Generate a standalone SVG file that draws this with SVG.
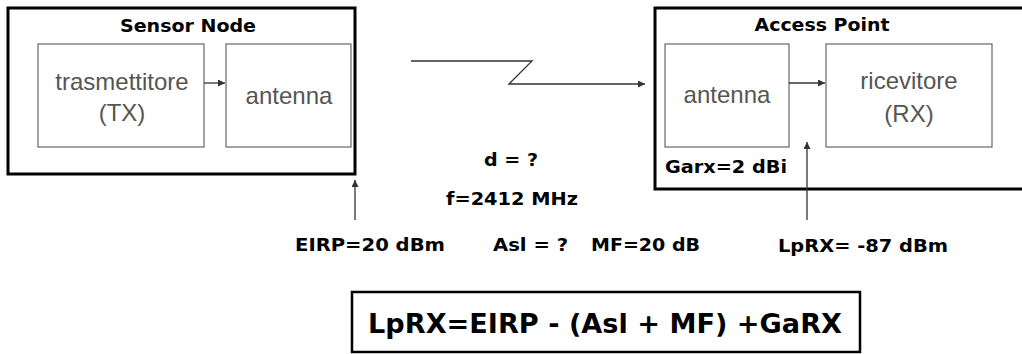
<svg xmlns="http://www.w3.org/2000/svg" width="1022" height="354" viewBox="0 0 1022 354">
<defs>
<style>
.outer{fill:none;stroke:#000;stroke-width:3}
.inner{fill:#fff;stroke:#666;stroke-width:1.2}
.lbl{font-family:"Liberation Sans",Arial,sans-serif;font-size:24px;fill:#555;text-anchor:middle}
.b{font-family:"DejaVu Sans",Verdana,sans-serif;font-weight:bold;font-size:18px;fill:#000}
.c{text-anchor:middle}
.ln{fill:none;stroke:#333;stroke-width:1.3}
</style>
<marker id="ah" viewBox="0 0 10 10" refX="10" refY="5" markerWidth="7" markerHeight="7" markerUnits="userSpaceOnUse" orient="auto">
<path d="M0,0 L10,5 L0,10 z" fill="#333"/>
</marker>
</defs>
<rect x="0" y="0" width="1022" height="354" fill="#fff"/>
<g id="sensor-node">
<rect class="outer" x="8" y="8" width="347" height="166"/>
<text class="b c" x="188" y="32" textLength="136" lengthAdjust="spacingAndGlyphs">Sensor Node</text>
</g>
<g id="tx">
<rect class="inner" x="38" y="44" width="166" height="103"/>
<text class="lbl" x="122" y="90">trasmettitore</text>
<text class="lbl" x="122" y="121">(TX)</text>
</g>
<g id="tx-antenna">
<rect class="inner" x="226" y="44" width="125" height="103"/>
<text class="lbl" x="289" y="104">antenna</text>
</g>
<g id="access-point">
<rect class="outer" x="655" y="8" width="380" height="181"/>
<text class="b c" x="822" y="31" textLength="135" lengthAdjust="spacingAndGlyphs">Access Point</text>
<text class="b" x="665" y="173" textLength="122" lengthAdjust="spacingAndGlyphs">Garx=2 dBi</text>
</g>
<g id="rx-antenna">
<rect class="inner" x="665" y="44" width="124" height="103"/>
<text class="lbl" x="727" y="103">antenna</text>
</g>
<g id="rx">
<rect class="inner" x="826" y="44" width="166" height="103"/>
<text class="lbl" x="909" y="89">ricevitore</text>
<text class="lbl" x="909" y="122">(RX)</text>
</g>
<g id="connectors">
<line class="ln" x1="204" y1="83" x2="225" y2="83" marker-end="url(#ah)"/>
<line class="ln" x1="789" y1="83" x2="825" y2="83" marker-end="url(#ah)"/>
<path class="ln" d="M411,61 L532,61 L509,84 L645,84" marker-end="url(#ah)"/>
<line class="ln" x1="355" y1="220" x2="355" y2="180" marker-end="url(#ah)"/>
<line class="ln" x1="807" y1="220" x2="807" y2="142" marker-end="url(#ah)"/>
</g>
<g id="params">
<text class="b" x="484" y="166" textLength="54" lengthAdjust="spacingAndGlyphs">d = ?</text>
<text class="b" x="446" y="205" textLength="132" lengthAdjust="spacingAndGlyphs">f=2412 MHz</text>
<text class="b" x="295" y="251" textLength="150" lengthAdjust="spacingAndGlyphs">EIRP=20 dBm</text>
<text class="b" x="493" y="251" textLength="75" lengthAdjust="spacingAndGlyphs">Asl = ?</text>
<text class="b" x="591" y="251" textLength="109" lengthAdjust="spacingAndGlyphs">MF=20 dB</text>
<text class="b" x="778" y="252" textLength="170" lengthAdjust="spacingAndGlyphs">LpRX= -87 dBm</text>
</g>
<g id="formula">
<rect x="352" y="292" width="508" height="60" fill="#fff" stroke="#000" stroke-width="2.5"/>
<text class="b" style="font-size:27px" x="368" y="333" textLength="474" lengthAdjust="spacingAndGlyphs">LpRX=EIRP - (Asl + MF) +GaRX</text>
</g>
</svg>
